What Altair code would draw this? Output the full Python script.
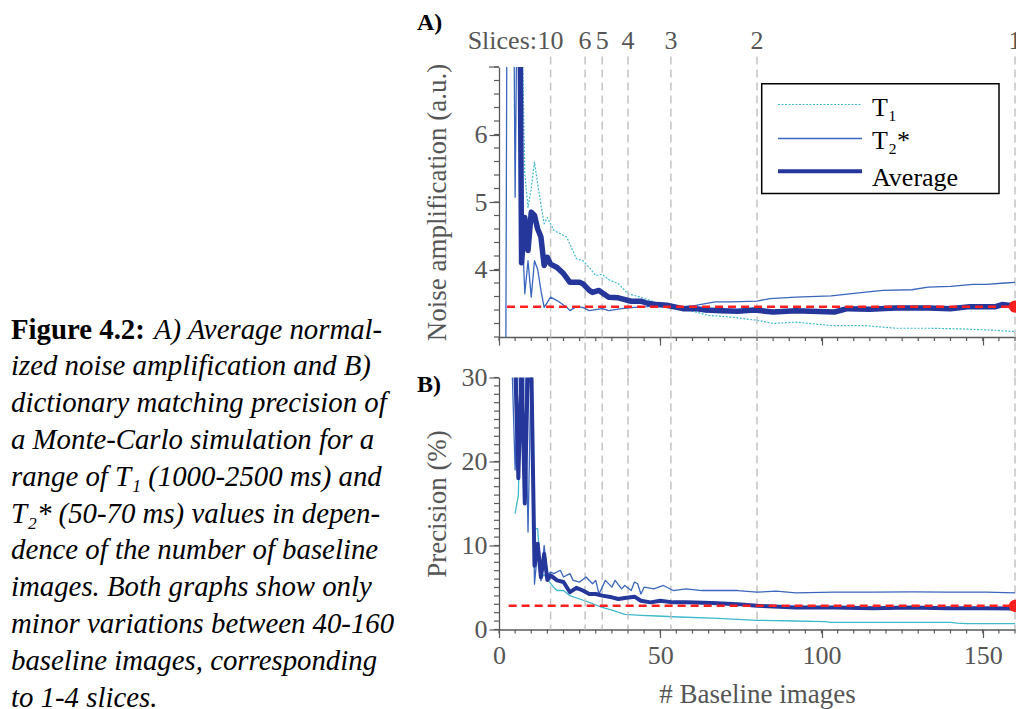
import altair as alt
import pandas as pd

# ---------------- data ----------------
SLICE_N = ["10", "6", "5", "4", "3", "2", "1"]
SLICE_X = [16, 26.7, 32, 40, 53.3, 80, 160]

A_T1_X = [7, 8, 9, 10, 11, 12, 13, 14, 15, 17, 21, 24, 26, 28, 30, 32, 34, 37, 40, 44,
          48, 52, 56, 61, 65, 73, 81, 85, 92, 103, 113, 123, 133, 143, 154, 160]
A_T1_Y = [8.0, 5.42, 4.92, 5.2, 5.59, 5.27, 4.96, 4.68, 4.77, 4.58, 4.48, 4.16, 4.13, 4.03,
          3.91, 3.93, 3.85, 3.79, 3.64, 3.59, 3.52, 3.44, 3.42, 3.37, 3.32, 3.29, 3.24, 3.20,
          3.22, 3.17, 3.17, 3.13, 3.13, 3.12, 3.10, 3.08]

A_T2_X = [2, 3, 4, 5, 6, 7, 8, 9, 10, 11, 12, 13, 14, 16, 18, 21, 22, 24, 26, 28, 32, 34,
          38, 42, 46, 50, 55, 61, 67, 72, 80, 84, 92, 103, 113, 119, 128, 133, 140, 147,
          151, 157, 160]
A_T2_Y = [1.0, 16.0, 12.0, 5.07, 10.0, 4.83, 3.64, 4.13, 3.59, 4.13, 4.0, 3.69, 3.44, 3.59,
          3.54, 3.44, 3.39, 3.45, 3.44, 3.39, 3.42, 3.39, 3.42, 3.44, 3.45, 3.47, 3.44, 3.47,
          3.52, 3.52, 3.53, 3.57, 3.59, 3.61, 3.66, 3.69, 3.70, 3.74, 3.75, 3.78, 3.78, 3.80,
          3.81]

A_AVG_X = [6, 7, 8, 9, 10, 11, 12, 13, 14, 15, 16, 18, 20, 22, 25, 26, 28, 29, 31, 34, 37,
           41, 44, 46, 49, 52, 57, 61, 64, 69, 74, 79, 85, 92, 104, 108, 115, 123, 133, 140,
           146, 154, 156, 160]
A_AVG_Y = [12.0, 4.1, 4.77, 4.28, 4.85, 4.8, 4.6, 4.48, 4.06, 4.18, 4.08, 4.03, 3.94, 3.81,
           3.81, 3.79, 3.69, 3.66, 3.69, 3.59, 3.58, 3.53, 3.53, 3.50, 3.48, 3.47, 3.42, 3.42,
           3.40, 3.39, 3.38, 3.40, 3.37, 3.39, 3.37, 3.42, 3.41, 3.43, 3.43, 3.42, 3.45, 3.45,
           3.48, 3.46]

B_T1_X = [5, 6, 7, 10, 11, 12, 13, 14, 15, 16, 17, 18, 20, 22, 25, 28, 32, 35, 39, 44, 49,
          56, 68, 80, 92, 101, 103, 140, 142, 145, 160]
B_T1_Y = [13.8, 16.0, 32.0, 32.0, 12.0, 12.0, 6.2, 6.5, 6.05, 5.5, 5.0, 4.64, 4.64, 4.03,
          3.63, 3.23, 2.62, 2.30, 1.81, 1.69, 1.61, 1.49, 1.33, 1.09, 1.01, 0.93, 0.85, 0.85,
          0.77, 0.69, 0.69]

B_T2_X = [4, 5, 6, 8, 9, 10, 11, 12, 13, 14, 15, 16, 17, 19, 20, 22, 23, 25, 27, 29, 30, 31,
          33, 35, 36, 38, 39, 41, 42, 43, 44, 45, 48, 51, 54, 58, 63, 68, 74, 80, 86, 92,
          104, 116, 128, 139, 151, 160]
B_T2_Y = [32, 19, 32, 32, 11.6, 32, 5.4, 9.5, 5.8, 10.0, 6.5, 6.85, 6.65, 7.05, 6.25, 6.65,
          5.85, 5.65, 6.25, 5.45, 5.85, 4.23, 5.85, 5.04, 5.85, 4.84, 5.24, 4.64, 5.65, 5.44,
          4.23, 5.04, 4.84, 5.24, 4.64, 4.84, 4.64, 4.64, 4.64, 4.44, 4.56, 4.35, 4.44, 4.44,
          4.48, 4.44, 4.44, 4.35]

B_AVG_X = [5, 6, 7, 8, 9, 10, 11, 12, 13, 14, 15, 16, 18, 20, 22, 24, 26, 28, 30, 32, 35,
           37, 39, 42, 44, 47, 50, 54, 58, 66, 74, 80, 92, 104, 116, 128, 139, 151, 160]
B_AVG_Y = [32, 18, 32, 15, 32, 32, 7.6, 10.2, 6.2, 9.0, 5.9, 6.45, 5.85, 5.65, 4.44, 4.96,
           4.64, 4.23, 4.23, 4.03, 3.83, 3.63, 3.75, 3.91, 3.43, 3.23, 3.43, 3.23, 3.23, 3.15,
           3.02, 2.82, 2.62, 2.62, 2.54, 2.62, 2.54, 2.54, 2.50]

REF_A = 3.45
REF_B = 2.82
REF_X_START_A = 2.5
REF_X_START_B = 3.0
REF_X_END = 160

# axis ticks
X_MAJOR = [0, 50, 100, 150]
X_MINOR = list(range(0, 161, 5))
YA_MAJOR = [4, 5, 6]
YA_MAJOR_EXTRA = [7]
YA_MINOR = [3.0, 3.2, 3.4, 3.6, 3.8, 4.0, 4.2, 4.4, 4.6, 4.8, 5.0, 5.2, 5.4, 5.6, 5.8, 6.0,
            6.2, 6.4, 6.6, 6.8, 7.0]
YB_MAJOR = [0, 10, 20, 30]
YB_MINOR = list(range(0, 31))

LEGEND_LABELS = ["T\u2081", "T\u2082*", "Average"]

CAPTION_BOLD = "Figure 4.2:"
CAPTION_LINES = [
    "A) Average normal-",
    "ized noise amplification and B)",
    "dictionary matching precision of",
    "a Monte-Carlo simulation for a",
    "range of T\u2081 (1000-2500 ms) and",
    "T\u2082* (50-70 ms) values in depen-",
    "dence of the number of baseline",
    "images. Both graphs show only",
    "minor variations between 40-160",
    "baseline images, corresponding",
    "to 1-4 slices.",
]

# ---------------- style ----------------
SERIF = "Liberation Serif"
GRAY = "#555555"
AXC = "#5a5a5a"
C_T1 = "#3FB9CC"
C_T2 = "#3A66BD"
C_AVG = "#25379A"
C_RED = "#FF1F1F"
C_SLICE = "#C4C4C4"
W, HA, HB = 516, 270, 252
GAP = 40.5
CAP_SIZE = 28.8
CAP_BASE = 338
CAP_STEP = 36.8
SLICE_BASE = 48

A_X0, A_Y0 = 499, 66.5
B_X0, B_Y0 = 499, 377


def df(xs, ys):
    return pd.DataFrame({"x": xs, "y": ys})


ONE = pd.DataFrame({"k": [0]})
slice_df = pd.DataFrame({"x": SLICE_X, "n": SLICE_N})

x_scale = alt.Scale(domain=[0, 160], nice=False, zero=False)
ya_scale = alt.Scale(domain=[3, 7], nice=False, zero=False)
yb_scale = alt.Scale(domain=[0, 30], nice=False, zero=False)

AX = dict(grid=False, domainColor=AXC, domainWidth=1.3, tickColor=AXC,
          tickWidth=1.2, labelFont=SERIF, labelFontSize=26, labelColor=GRAY,
          labelOverlap=False, labelFlush=False, titleFont=SERIF, titleFontSize=27,
          titleColor=GRAY, titleFontWeight="normal", format="d")


def x_axis(show_labels, title=None):
    kw = dict(AX)
    kw.update(values=X_MAJOR, tickSize=8, labels=show_labels, labelPadding=5)
    if title:
        kw.update(title=title, titleX=W / 2, titleY=73, titleBaseline="alphabetic",
                  titleAlign="center")
    return alt.Axis(**kw)


def y_axis(values, title, h):
    kw = dict(AX)
    kw.update(values=values, tickSize=10, labelPadding=2,
              title=title, titleX=-62, titleY=h / 2, titleAngle=270,
              titleBaseline="middle", titleAlign="center")
    return alt.Axis(**kw)


def series(xs, ys, yscale, color, width, dash=None, xaxis=None, yaxis=None, xtitle=None,
           ytitle=None):
    props = dict(clip=True, color=color, strokeWidth=width, strokeJoin="round")
    if dash:
        props["strokeDash"] = dash
    if xaxis is not None:
        xenc = alt.X("x:Q", scale=x_scale, axis=xaxis, title=xtitle)
        yenc = alt.Y("y:Q", scale=yscale, axis=yaxis, title=ytitle)
    else:
        xenc = alt.X("x:Q", scale=x_scale)
        yenc = alt.Y("y:Q", scale=yscale)
    return alt.Chart(df(xs, ys)).mark_line(**props).encode(x=xenc, y=yenc)


def ticks_y(values, yscale, length):
    return alt.Chart(pd.DataFrame({"y": values})).mark_rule(color=AXC, strokeWidth=1.2).encode(
        y=alt.Y("y:Q", scale=yscale), x=alt.value(-length), x2=alt.value(0))


def ticks_x(values, h, length):
    return alt.Chart(pd.DataFrame({"x": values})).mark_rule(color=AXC, strokeWidth=1.2).encode(
        x=alt.X("x:Q", scale=x_scale), y=alt.value(h), y2=alt.value(h + length))


def slice_rules(y1, y2):
    return alt.Chart(slice_df).mark_rule(color=C_SLICE, strokeDash=[8, 5], strokeWidth=1.5).encode(
        x=alt.X("x:Q", scale=x_scale), y=alt.value(y1), y2=alt.value(y2))


def ref_line(x0, yv, yscale):
    d = pd.DataFrame({"x": [x0], "x2": [REF_X_END], "y": [yv]})
    return alt.Chart(d).mark_rule(color=C_RED, strokeDash=[8, 5], strokeWidth=2.5).encode(
        x=alt.X("x:Q", scale=x_scale), x2="x2:Q", y=alt.Y("y:Q", scale=yscale))


def ref_dot(yv, yscale):
    d = pd.DataFrame({"x": [REF_X_END], "y": [yv]})
    return alt.Chart(d).mark_point(filled=True, size=150, color=C_RED, opacity=1).encode(
        x=alt.X("x:Q", scale=x_scale), y=alt.Y("y:Q", scale=yscale))


def label(text, px, py, x0, y0, size=26, color="black", weight="normal", style="normal",
          align="left", baseline="alphabetic"):
    return alt.Chart(ONE).mark_text(text=text, font=SERIF, fontSize=size, color=color,
                                    fontWeight=weight, fontStyle=style, align=align,
                                    baseline=baseline).encode(
        x=alt.value(px - x0), y=alt.value(py - y0))


# ---------------- panel A ----------------
a_layers = [
    series(A_T1_X, A_T1_Y, ya_scale, C_T1, 1.2, [2, 1.5],
           xaxis=x_axis(False),
           yaxis=y_axis(YA_MAJOR, "Noise amplification (a.u.)", HA),
           xtitle=None, ytitle="Noise amplification (a.u.)"),
    slice_rules(SLICE_BASE + 8 - A_Y0, 377 - A_Y0),
    series(A_T2_X, A_T2_Y, ya_scale, C_T2, 1.3),
    series(A_AVG_X, A_AVG_Y, ya_scale, C_AVG, 5.5),
    ticks_y(YA_MINOR, ya_scale, 5),
    ticks_y(YA_MAJOR_EXTRA, ya_scale, 10),
    ticks_x(X_MINOR, HA, 4),
    ref_line(REF_X_START_A, REF_A, ya_scale),
    ref_dot(REF_A, ya_scale),
    alt.Chart(slice_df).mark_text(font=SERIF, fontSize=26, color=GRAY, baseline="alphabetic",
                                  align="center").encode(
        x=alt.X("x:Q", scale=x_scale), y=alt.value(SLICE_BASE - A_Y0), text="n:N"),
    label("Slices:", 537, SLICE_BASE, A_X0, A_Y0, color=GRAY, align="right"),
    label("A)", 417, 29, A_X0, A_Y0, size=24, weight="bold"),
    # legend box
    alt.Chart(ONE).mark_rect(fill="white", stroke="black", strokeWidth=1.5).encode(
        x=alt.value(761.7 - A_X0), x2=alt.value(999 - A_X0),
        y=alt.value(83.3 - A_Y0), y2=alt.value(193 - A_Y0)),
    alt.Chart(ONE).mark_rule(color=C_T1, strokeWidth=1.2, strokeDash=[2, 1.5]).encode(
        x=alt.value(778 - A_X0), x2=alt.value(862 - A_X0), y=alt.value(104 - A_Y0)),
    alt.Chart(ONE).mark_rule(color=C_T2, strokeWidth=1.5).encode(
        x=alt.value(778 - A_X0), x2=alt.value(862 - A_X0), y=alt.value(138 - A_Y0)),
    alt.Chart(ONE).mark_rule(color=C_AVG, strokeWidth=4).encode(
        x=alt.value(778 - A_X0), x2=alt.value(862 - A_X0), y=alt.value(170.7 - A_Y0)),
    label(LEGEND_LABELS[0], 872, 115, A_X0, A_Y0),
    label(LEGEND_LABELS[1], 872, 148, A_X0, A_Y0),
    label(LEGEND_LABELS[2], 872, 185, A_X0, A_Y0),
    # caption
    label(CAPTION_BOLD, 11, CAP_BASE, A_X0, A_Y0, size=CAP_SIZE, weight="bold"),
]
for i, line in enumerate(CAPTION_LINES):
    px = 154 if i == 0 else 11
    a_layers.append(label(line, px, CAP_BASE + CAP_STEP * i, A_X0, A_Y0, size=CAP_SIZE,
                          style="italic"))

panel_a = alt.layer(*a_layers).properties(width=W, height=HA)

# ---------------- panel B ----------------
b_layers = [
    series(B_T1_X, B_T1_Y, yb_scale, C_T1, 1.3,
           xaxis=x_axis(True, "# Baseline images"),
           yaxis=y_axis(YB_MAJOR, "Precision (%)", HB),
           xtitle="# Baseline images", ytitle="Precision (%)"),
    slice_rules(0, HB),
    series(B_T2_X, B_T2_Y, yb_scale, C_T2, 1.3),
    series(B_AVG_X, B_AVG_Y, yb_scale, C_AVG, 4),
    ticks_y(YB_MINOR, yb_scale, 5),
    ticks_x(X_MINOR, HB, 4),
    ref_line(REF_X_START_B, REF_B, yb_scale),
    ref_dot(REF_B, yb_scale),
    label("B)", 417, 391, B_X0, B_Y0, size=24, weight="bold"),
]
panel_b = alt.layer(*b_layers).properties(width=W, height=HB)

chart = alt.vconcat(panel_a, panel_b, spacing=GAP, bounds="flush").properties(
    padding={"left": 3, "top": 2, "right": -6, "bottom": 0},
    background="white",
).configure_view(stroke=None).configure_axis(labelOverlap=False, labelFlush=False)

chart.save("out.html", embed_options={"renderer": "svg", "actions": False})
